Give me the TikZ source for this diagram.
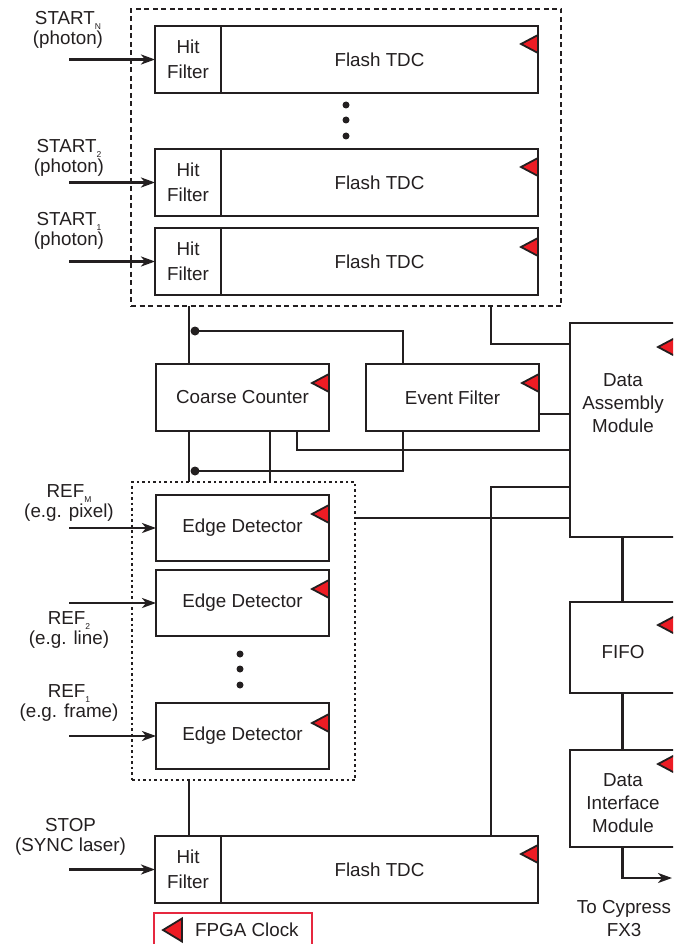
\documentclass[tikz,border=0pt]{standalone}
\usepackage{fontspec}
\setsansfont{Liberation Sans}
\usetikzlibrary{arrows.meta,calc,fit}
\definecolor{inkdark}{HTML}{231F20}
\definecolor{clkred}{HTML}{ED1C24}
\definecolor{legred}{HTML}{E6283F}
\newcommand\lowsub[1]{\raisebox{-0.45ex}{\fontsize{8.5}{8.5}\selectfont #1}}
\tikzset{
  txt/.style={font=\sffamily\fontsize{18.8}{23}\selectfont, text=inkdark},
  blk/.style={txt, draw=inkdark, fill=white, line width=2.5pt, inner sep=0pt,
    outer sep=0pt, align=center, anchor=north west},
  hitbox/.style={blk, minimum width=66pt, minimum height=67pt,
    font=\sffamily\fontsize{18.8}{24.5}\selectfont},
  tdcbox/.style={blk, minimum width=317pt, minimum height=67pt},
  unitbox/.style={blk, minimum width=173pt, minimum height=67pt},
  modbox/.style={blk, minimum width=105pt},
  grpdash/.style={draw=inkdark, line width=2.3pt, dash pattern=on 5pt off 3.5pt,
    inner sep=0pt, outer sep=0pt},
  grpdot/.style={draw=inkdark, line width=2.3pt, dash pattern=on 2.5pt off 3pt,
    inner sep=0pt, outer sep=0pt},
  wire/.style={draw=inkdark, line width=2.3pt},
  sig/.style={wire, -{Stealth[length=14pt,width=10pt,inset=4pt]}},
  clkpin/.style={draw=inkdark, fill=clkred, line width=1.8pt, line join=miter},
  jdot/.style={fill=inkdark},
  lbl/.style={txt, align=center, inner sep=0pt},
  inlbl/.style={lbl, font=\sffamily\fontsize{18.8}{19.5}\selectfont},
}

\begin{document}
\begin{tikzpicture}[x=1pt,y=-1pt]
  \clip (0,0) rectangle (673,944);
  % groups
  \node[grpdash, fit={(131,9) (561,306)}] (startgrp) {};
  \node[grpdot, fit={(132,482) (355,780)}] (edgrp) {};
  % start channels
  \node[hitbox] (hfn) at (155,26) {Hit\\Filter};
  \node[tdcbox] (tdcn) at (hfn.north east) {Flash TDC};
  \node[hitbox] (hf2) at (155,149) {Hit\\Filter};
  \node[tdcbox] (tdc2) at (hf2.north east) {Flash TDC};
  \node[hitbox] (hf1) at (155,228) {Hit\\Filter};
  \node[tdcbox] (tdc1) at (hf1.north east) {Flash TDC};
  \foreach \y in {105,120,136} {\fill[jdot] (346,\y) circle (3.5);}
  % counter and filter
  \node[unitbox] (cc) at (156,364) {Coarse Counter};
  \node[unitbox] (ef) at (366,364) {Event Filter};
  % reference channels
  \node[unitbox, minimum height=66pt] (edm) at (156,495) {Edge Detector};
  \node[unitbox, minimum height=66pt] (ed2) at (156,570) {Edge Detector};
  \node[unitbox, minimum height=66pt] (ed1) at (156,703) {Edge Detector};
  \foreach \y in {654,669,685} {\fill[jdot] (240,\y) circle (3.5);}
  % stop channel
  \node[hitbox] (hfs) at (155,836) {Hit\\Filter};
  \node[tdcbox] (tdcs) at (hfs.north east) {Flash TDC};
  % output chain
  \node[modbox, minimum height=214pt] (dam) at (570,323) {};
  \node[lbl] (damtxt) at (623,403.5) {Data\\Assembly\\Module};
  \node[modbox, minimum height=91pt] (fifo) at (570,602) {};
  \node[lbl] (fifotxt) at (623,652.5) {FIFO};
  \node[modbox, minimum height=97pt] (dim) at (570,750) {};
  \node[lbl] (dimtxt) at (623,803) {Data\\Interface\\Module};
  \node[lbl] (tofx) at (624,918.5) {To Cypress\\FX3};
  % input labels
  \node[inlbl] (startn) at (68,30) {START\lowsub{N}\\(photon)};
  \node[inlbl] (start2) at (69,158) {START\lowsub{2}\\(photon)};
  \node[inlbl] (start1) at (69,231) {START\lowsub{1}\\(photon)};
  \node[inlbl] (refm) at (69,503) {REF\lowsub{M}\\(e.g. pixel)};
  \node[inlbl] (ref2) at (69,630) {REF\lowsub{2}\\(e.g. line)};
  \node[inlbl] (ref1) at (69,703) {REF\lowsub{1}\\(e.g. frame)};
  \node[inlbl] (stop) at (70.5,837) {STOP\\(SYNC laser)};
  % columns and rows of the wiring
  \coordinate (xin) at (69,0);
  \coordinate (xa) at (189,0);
  \coordinate (xb) at (270,0);
  \coordinate (xc) at (297,0);
  \coordinate (xd) at (403,0);
  \coordinate (xe) at (491,0);
  \coordinate (ya) at (0,344);
  \coordinate (yb) at (0,414);
  \coordinate (yc) at (0,450);
  \coordinate (yd) at (0,487);
  \coordinate (ye) at (0,518);
  \coordinate (jA) at (195,331);
  \coordinate (jB) at (195,471);
  \coordinate (fx3) at (672,878);
  % inputs
  \foreach \h in {hfn,hf2,hf1,edm,ed2,ed1,hfs} {\draw[sig] (\h.west -| xin) -- (\h.west);}
  % wiring
  \draw[wire] (startgrp.south -| xa) -- (cc.north -| xa);
  \draw[wire] (jA) -- (jA -| xd) -- (ef.north -| xd);
  \draw[wire] (startgrp.south -| xe) |- (dam.west |- ya);
  \draw[wire] (ef.east |- yb) -- (dam.west |- yb);
  \draw[wire] (cc.south -| xc) |- (dam.west |- yc);
  \draw[wire] (cc.south -| xa) -- (edgrp.north -| xa);
  \draw[wire] (cc.south -| xb) -- (edgrp.north -| xb);
  \draw[wire] (jB) -- (jB -| xd) -- (ef.south -| xd);
  \draw[wire] (edgrp.east |- ye) -- (dam.west |- ye);
  \draw[wire] (dam.west |- yd) -| (tdcs.north -| xe);
  \draw[wire] (edgrp.south -| xa) -- (hfs.north -| xa);
  \draw[wire] (dam.south) -- (fifo.north);
  \draw[wire] (fifo.south) -- (dim.north);
  \draw[sig] (dim.south) |- (fx3);
  \fill[jdot] (jA) circle (4.5) (jB) circle (4.5);
  % clock pins
  \foreach \n/\o in {tdcn/18,tdc2/18,tdc1/19,tdcs/18,cc/19,ef/19,edm/19,ed2/19,
                     ed1/20,dam/24,fifo/23,dim/14} {
    \draw[clkpin] ($(\n.north east)+(0,\o-9)$) -- ++(-17,9) -- ++(17,9) -- cycle;
  }
  % legend
  \node[blk, draw=legred, line width=1.8pt, minimum width=158pt,
    minimum height=42pt] (legend) at (154,913) {};
  \draw[clkpin] ($(legend.north west)+(9,17)$) -- ++(19,-11.5) -- ++(0,23) -- cycle;
  \node[txt, anchor=west, inner sep=0pt] (legtxt) at (195,930) {FPGA Clock};
\end{tikzpicture}
\end{document}
